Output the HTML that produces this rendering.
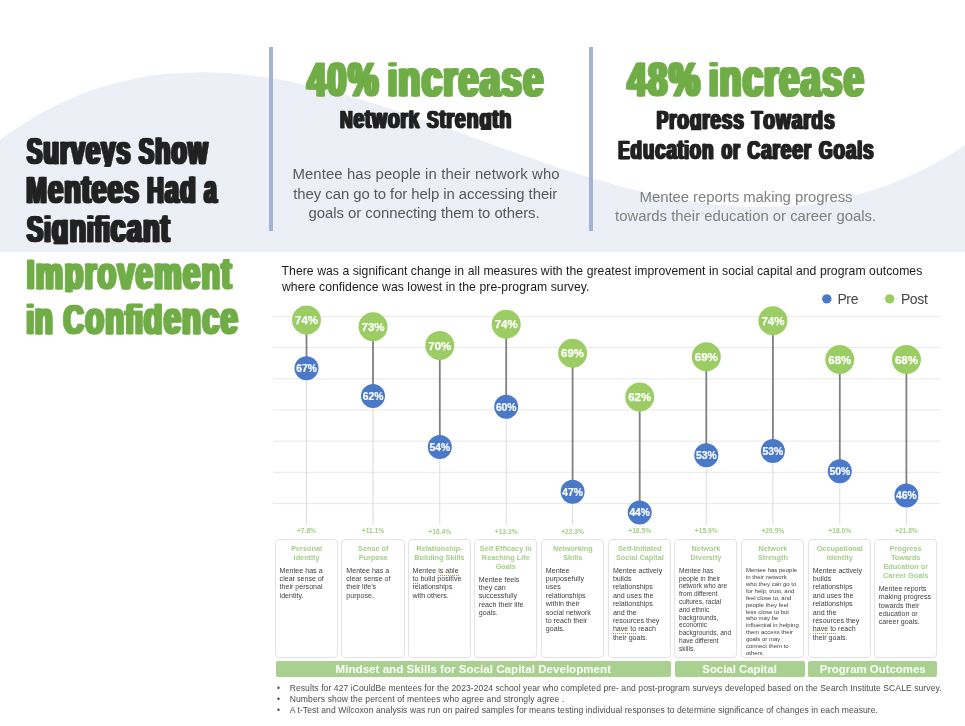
<!DOCTYPE html>
<html><head><meta charset="utf-8"><title>Survey results</title>
<style>
html,body{margin:0;padding:0;}
body{width:965px;height:726px;position:relative;overflow:hidden;background:#fff;font-family:"Liberation Sans",sans-serif;color:#222;}
.abs{position:absolute;}
svg{position:absolute;left:0;top:0;}
.t{position:absolute;white-space:nowrap;line-height:1;}
.imp{font-family:"Liberation Sans",sans-serif;font-weight:bold;}
.card{position:absolute;box-sizing:border-box;border:1px solid #e2e2e2;border-radius:4px;background:#fff;}
.ct{position:absolute;text-align:center;font-weight:bold;color:#a3cf86;white-space:nowrap;}
.cb{position:absolute;white-space:nowrap;color:#404040;}
.bar{position:absolute;background:#a9d08e;border-radius:2px;color:#fff;font-weight:bold;text-align:center;white-space:nowrap;}
.sq{border-bottom:1px dotted #c9853a;}
.fn{position:absolute;white-space:nowrap;color:#4a4a4a;}
.pct{position:absolute;font-weight:bold;color:#a3cf86;text-align:center;white-space:nowrap;}
#root{position:absolute;left:0;top:0;width:965px;height:726px;will-change:transform;}
</style></head><body><div id="root">
<svg width="965" height="726" viewBox="0 0 965 726">
<path d="M0.0,139.8 C2.5,138.0 10.0,132.5 15.0,129.2 C20.0,125.8 25.0,122.7 30.0,119.7 C35.0,116.7 40.0,113.8 45.0,111.1 C50.0,108.4 55.0,105.9 60.0,103.5 C65.0,101.1 70.0,98.9 75.0,96.8 C80.0,94.7 85.0,92.8 90.0,91.0 C95.0,89.2 100.0,87.6 105.0,86.1 C110.0,84.6 115.0,83.2 120.0,82.0 C125.0,80.8 130.0,79.6 135.0,78.6 C140.0,77.6 145.0,76.8 150.0,76.0 C155.0,75.2 160.0,74.6 165.0,74.1 C170.0,73.6 175.0,73.2 180.0,72.9 C185.0,72.6 190.0,72.5 195.0,72.4 C200.0,72.3 205.0,72.3 210.0,72.4 C215.0,72.5 220.0,72.7 225.0,73.0 C230.0,73.3 235.0,73.7 240.0,74.2 C245.0,74.7 250.0,75.3 255.0,75.9 C260.0,76.5 265.0,77.2 270.0,78.0 C275.0,78.8 280.0,79.6 285.0,80.6 C290.0,81.5 295.0,82.6 300.0,83.7 C305.0,84.8 310.0,85.9 315.0,87.1 C320.0,88.3 325.0,89.5 330.0,90.8 C335.0,92.1 340.0,93.4 345.0,94.8 C350.0,96.2 355.0,97.7 360.0,99.2 C365.0,100.7 370.0,102.2 375.0,103.8 C380.0,105.4 385.0,107.0 390.0,108.6 C395.0,110.2 400.0,111.8 405.0,113.5 C410.0,115.2 415.0,117.0 420.0,118.7 C425.0,120.4 430.0,122.2 435.0,123.9 C440.0,125.7 445.0,127.4 450.0,129.2 C455.0,131.0 460.0,132.8 465.0,134.6 C470.0,136.4 475.0,138.3 480.0,140.1 C485.0,141.9 490.0,143.7 495.0,145.5 C500.0,147.3 505.0,149.0 510.0,150.8 C515.0,152.6 520.0,154.3 525.0,156.1 C530.0,157.8 535.0,159.6 540.0,161.3 C545.0,163.0 550.0,164.7 555.0,166.4 C560.0,168.1 565.0,169.7 570.0,171.3 C575.0,172.9 580.0,174.5 585.0,176.0 C590.0,177.5 595.0,179.1 600.0,180.5 C605.0,181.9 610.0,183.3 615.0,184.7 C620.0,186.1 625.0,187.4 630.0,188.7 C635.0,190.0 640.0,191.2 645.0,192.3 C650.0,193.5 655.0,194.6 660.0,195.6 C665.0,196.6 670.0,197.7 675.0,198.6 C680.0,199.5 685.0,200.3 690.0,201.1 C695.0,201.9 700.0,202.7 705.0,203.3 C710.0,204.0 715.0,204.5 720.0,205.0 C725.0,205.5 730.0,205.9 735.0,206.2 C740.0,206.5 745.0,206.8 750.0,206.9 C755.0,207.0 760.0,207.0 765.0,207.0 C770.0,207.0 775.0,206.9 780.0,206.7 C785.0,206.5 790.0,206.1 795.0,205.7 C800.0,205.3 805.0,204.7 810.0,204.1 C815.0,203.5 820.0,202.8 825.0,201.9 C830.0,201.1 835.0,200.1 840.0,199.0 C845.0,197.9 850.0,196.7 855.0,195.4 C860.0,194.1 865.0,192.7 870.0,191.1 C875.0,189.5 880.0,187.8 885.0,186.0 C890.0,184.2 895.0,182.2 900.0,180.1 C905.0,178.0 910.0,175.9 915.0,173.5 C920.0,171.1 925.0,168.6 930.0,165.9 C935.0,163.2 940.0,160.4 945.0,157.5 C950.0,154.6 956.7,150.3 960.0,148.2 C963.3,146.1 964.2,145.4 965.0,144.9 L965,252 L0,252 Z" fill="#eceff5"/>
<rect x="269" y="47" width="4" height="184" fill="#a4b2d3"/>
<rect x="589" y="47" width="4" height="184" fill="#a4b2d3"/>
<clipPath id="cl1"><rect x="20.9" y="137.61" width="115.3" height="29.20"/></clipPath>
<g clip-path="url(#cl1)" fill="#222222" stroke="#222222" stroke-width="0.61" stroke-linejoin="round" font-family="Liberation Sans, sans-serif" font-weight="bold" font-size="37.06">
<text transform="translate(25.54,164.00) scale(0.6234,1.0000)">S</text>
<text transform="translate(26.94,164.00) scale(0.6234,1.0000)">S</text>
<text transform="translate(28.35,164.00) scale(0.6234,1.0000)">S</text>
<text transform="translate(42.12,164.00) scale(0.6858,1.1000)">u</text>
<text transform="translate(43.52,164.00) scale(0.6858,1.1000)">u</text>
<text transform="translate(44.92,164.00) scale(0.6858,1.1000)">u</text>
<text transform="translate(58.60,164.00) scale(0.6858,1.1000)">r</text>
<text transform="translate(60.00,164.00) scale(0.6858,1.1000)">r</text>
<text transform="translate(61.40,164.00) scale(0.6858,1.1000)">r</text>
<text transform="translate(69.40,164.00) scale(0.6858,1.1000)">v</text>
<text transform="translate(70.80,164.00) scale(0.6858,1.1000)">v</text>
<text transform="translate(72.20,164.00) scale(0.6858,1.1000)">v</text>
<text transform="translate(84.60,164.00) scale(0.6858,1.1000)">e</text>
<text transform="translate(86.00,164.00) scale(0.6858,1.1000)">e</text>
<text transform="translate(87.40,164.00) scale(0.6858,1.1000)">e</text>
<text transform="translate(99.80,164.00) scale(0.6858,1.1000)">y</text>
<text transform="translate(101.20,164.00) scale(0.6858,1.1000)">y</text>
<text transform="translate(102.60,164.00) scale(0.6858,1.1000)">y</text>
<text transform="translate(115.00,164.00) scale(0.6858,1.1000)">s</text>
<text transform="translate(116.40,164.00) scale(0.6858,1.1000)">s</text>
<text transform="translate(117.80,164.00) scale(0.6858,1.1000)">s</text>
</g>
<clipPath id="cl2"><rect x="132.8" y="137.61" width="81.4" height="29.20"/></clipPath>
<g clip-path="url(#cl2)" fill="#222222" stroke="#222222" stroke-width="0.61" stroke-linejoin="round" font-family="Liberation Sans, sans-serif" font-weight="bold" font-size="37.06">
<text transform="translate(137.45,164.00) scale(0.6118,1.0000)">S</text>
<text transform="translate(138.86,164.00) scale(0.6118,1.0000)">S</text>
<text transform="translate(140.26,164.00) scale(0.6118,1.0000)">S</text>
<text transform="translate(153.72,164.00) scale(0.6729,1.1000)">h</text>
<text transform="translate(155.12,164.00) scale(0.6729,1.1000)">h</text>
<text transform="translate(156.52,164.00) scale(0.6729,1.1000)">h</text>
<text transform="translate(170.10,164.00) scale(0.6729,1.1000)">o</text>
<text transform="translate(171.50,164.00) scale(0.6729,1.1000)">o</text>
<text transform="translate(172.91,164.00) scale(0.6729,1.1000)">o</text>
<text transform="translate(186.64,164.00) scale(0.6729,1.1000)">w</text>
<text transform="translate(188.04,164.00) scale(0.6729,1.1000)">w</text>
<text transform="translate(189.44,164.00) scale(0.6729,1.1000)">w</text>
</g>
<clipPath id="cl3"><rect x="21.3" y="176.61" width="123.2" height="29.20"/></clipPath>
<g clip-path="url(#cl3)" fill="#222222" stroke="#222222" stroke-width="0.61" stroke-linejoin="round" font-family="Liberation Sans, sans-serif" font-weight="bold" font-size="37.06">
<text transform="translate(24.97,203.00) scale(0.6616,1.0000)">M</text>
<text transform="translate(26.37,203.00) scale(0.6616,1.0000)">M</text>
<text transform="translate(27.77,203.00) scale(0.6616,1.0000)">M</text>
<text transform="translate(46.73,203.00) scale(0.7278,1.1000)">e</text>
<text transform="translate(48.13,203.00) scale(0.7278,1.1000)">e</text>
<text transform="translate(49.53,203.00) scale(0.7278,1.1000)">e</text>
<text transform="translate(62.91,203.00) scale(0.7278,1.1000)">n</text>
<text transform="translate(64.31,203.00) scale(0.7278,1.1000)">n</text>
<text transform="translate(65.72,203.00) scale(0.7278,1.1000)">n</text>
<text transform="translate(80.35,203.00) scale(0.7278,1.1000)">t</text>
<text transform="translate(81.75,203.00) scale(0.7278,1.1000)">t</text>
<text transform="translate(83.15,203.00) scale(0.7278,1.1000)">t</text>
<text transform="translate(90.23,203.00) scale(0.7278,1.1000)">e</text>
<text transform="translate(91.63,203.00) scale(0.7278,1.1000)">e</text>
<text transform="translate(93.04,203.00) scale(0.7278,1.1000)">e</text>
<text transform="translate(106.36,203.00) scale(0.7278,1.1000)">e</text>
<text transform="translate(107.77,203.00) scale(0.7278,1.1000)">e</text>
<text transform="translate(109.17,203.00) scale(0.7278,1.1000)">e</text>
<text transform="translate(122.49,203.00) scale(0.7278,1.1000)">s</text>
<text transform="translate(123.90,203.00) scale(0.7278,1.1000)">s</text>
<text transform="translate(125.30,203.00) scale(0.7278,1.1000)">s</text>
</g>
<clipPath id="cl4"><rect x="141.9" y="176.61" width="58.7" height="29.20"/></clipPath>
<g clip-path="url(#cl4)" fill="#222222" stroke="#222222" stroke-width="0.61" stroke-linejoin="round" font-family="Liberation Sans, sans-serif" font-weight="bold" font-size="37.06">
<text transform="translate(145.66,203.00) scale(0.6218,1.0000)">H</text>
<text transform="translate(147.07,203.00) scale(0.6218,1.0000)">H</text>
<text transform="translate(148.47,203.00) scale(0.6218,1.0000)">H</text>
<text transform="translate(163.46,203.00) scale(0.6839,1.1000)">a</text>
<text transform="translate(164.87,203.00) scale(0.6839,1.1000)">a</text>
<text transform="translate(166.27,203.00) scale(0.6839,1.1000)">a</text>
<text transform="translate(178.68,203.00) scale(0.6839,1.1000)">d</text>
<text transform="translate(180.08,203.00) scale(0.6839,1.1000)">d</text>
<text transform="translate(181.48,203.00) scale(0.6839,1.1000)">d</text>
</g>
<clipPath id="cl5"><rect x="198.1" y="176.61" width="25.5" height="29.20"/></clipPath>
<g clip-path="url(#cl5)" fill="#222222" stroke="#222222" stroke-width="0.61" stroke-linejoin="round" font-family="Liberation Sans, sans-serif" font-weight="bold" font-size="37.06">
<text transform="translate(202.74,203.00) scale(0.6114,1.1000)">a</text>
<text transform="translate(204.14,203.00) scale(0.6114,1.1000)">a</text>
<text transform="translate(205.55,203.00) scale(0.6114,1.1000)">a</text>
</g>
<clipPath id="cl6"><rect x="20.9" y="215.51" width="155.0" height="29.20"/></clipPath>
<clipPath id="cl6g"><rect x="20.9" y="215.51" width="155.0" height="27.54"/></clipPath>
<g clip-path="url(#cl6)" fill="#222222" stroke="#222222" stroke-width="0.61" stroke-linejoin="round" font-family="Liberation Sans, sans-serif" font-weight="bold" font-size="37.06">
<text transform="translate(25.50,241.90) scale(0.6623,1.0000)">S</text>
<text transform="translate(26.90,241.90) scale(0.6623,1.0000)">S</text>
<text transform="translate(28.30,241.90) scale(0.6623,1.0000)">S</text>
<text transform="translate(42.75,241.90) scale(0.6623,1.0000)">i</text>
<text transform="translate(44.15,241.90) scale(0.6623,1.0000)">i</text>
<text transform="translate(45.55,241.90) scale(0.6623,1.0000)">i</text>
<g clip-path="url(#cl6g)">
<text transform="translate(50.44,241.90) scale(0.7286,1.1000)">g</text>
<text transform="translate(51.85,241.90) scale(0.7286,1.1000)">g</text>
<text transform="translate(53.25,241.90) scale(0.7286,1.1000)">g</text>
</g>
<rect x="53.51" y="241.14" width="14.66" height="3.44" rx="1.02" stroke="none"/>
<text transform="translate(68.18,241.90) scale(0.7286,1.1000)">n</text>
<text transform="translate(69.58,241.90) scale(0.7286,1.1000)">n</text>
<text transform="translate(70.99,241.90) scale(0.7286,1.1000)">n</text>
<text transform="translate(85.55,241.90) scale(0.6623,1.0000)">i</text>
<text transform="translate(86.96,241.90) scale(0.6623,1.0000)">i</text>
<text transform="translate(88.36,241.90) scale(0.6623,1.0000)">i</text>
<text transform="translate(92.94,241.90) scale(0.6623,1.0000)">f</text>
<text transform="translate(94.34,241.90) scale(0.6623,1.0000)">f</text>
<text transform="translate(95.74,241.90) scale(0.6623,1.0000)">f</text>
<text transform="translate(101.68,241.90) scale(0.6623,1.0000)">i</text>
<text transform="translate(103.08,241.90) scale(0.6623,1.0000)">i</text>
<text transform="translate(104.48,241.90) scale(0.6623,1.0000)">i</text>
<text transform="translate(109.32,241.90) scale(0.7286,1.1000)">c</text>
<text transform="translate(110.72,241.90) scale(0.7286,1.1000)">c</text>
<text transform="translate(112.12,241.90) scale(0.7286,1.1000)">c</text>
<text transform="translate(125.47,241.90) scale(0.7286,1.1000)">a</text>
<text transform="translate(126.87,241.90) scale(0.7286,1.1000)">a</text>
<text transform="translate(128.27,241.90) scale(0.7286,1.1000)">a</text>
<text transform="translate(141.67,241.90) scale(0.7286,1.1000)">n</text>
<text transform="translate(143.07,241.90) scale(0.7286,1.1000)">n</text>
<text transform="translate(144.48,241.90) scale(0.7286,1.1000)">n</text>
<text transform="translate(159.13,241.90) scale(0.7286,1.1000)">t</text>
<text transform="translate(160.53,241.90) scale(0.7286,1.1000)">t</text>
<text transform="translate(161.93,241.90) scale(0.7286,1.1000)">t</text>
</g>
<clipPath id="cl7"><rect x="21.7" y="259.09" width="216.3" height="33.09"/></clipPath>
<g clip-path="url(#cl7)" fill="#70ad47" stroke="#70ad47" stroke-width="0.69" stroke-linejoin="round" font-family="Liberation Sans, sans-serif" font-weight="bold" font-size="42.01">
<text transform="translate(25.19,289.00) scale(0.6608,1.0000)">I</text>
<text transform="translate(26.78,289.00) scale(0.6608,1.0000)">I</text>
<text transform="translate(28.37,289.00) scale(0.6608,1.0000)">I</text>
<text transform="translate(34.21,289.00) scale(0.7269,1.1000)">m</text>
<text transform="translate(35.80,289.00) scale(0.7269,1.1000)">m</text>
<text transform="translate(37.39,289.00) scale(0.7269,1.1000)">m</text>
<text transform="translate(63.09,289.00) scale(0.7269,1.1000)">p</text>
<text transform="translate(64.68,289.00) scale(0.7269,1.1000)">p</text>
<text transform="translate(66.27,289.00) scale(0.7269,1.1000)">p</text>
<text transform="translate(82.89,289.00) scale(0.7269,1.1000)">r</text>
<text transform="translate(84.48,289.00) scale(0.7269,1.1000)">r</text>
<text transform="translate(86.07,289.00) scale(0.7269,1.1000)">r</text>
<text transform="translate(95.92,289.00) scale(0.7269,1.1000)">o</text>
<text transform="translate(97.51,289.00) scale(0.7269,1.1000)">o</text>
<text transform="translate(99.10,289.00) scale(0.7269,1.1000)">o</text>
<text transform="translate(115.91,289.00) scale(0.7269,1.1000)">v</text>
<text transform="translate(117.50,289.00) scale(0.7269,1.1000)">v</text>
<text transform="translate(119.09,289.00) scale(0.7269,1.1000)">v</text>
<text transform="translate(134.17,289.00) scale(0.7269,1.1000)">e</text>
<text transform="translate(135.76,289.00) scale(0.7269,1.1000)">e</text>
<text transform="translate(137.35,289.00) scale(0.7269,1.1000)">e</text>
<text transform="translate(152.81,289.00) scale(0.7269,1.1000)">m</text>
<text transform="translate(154.40,289.00) scale(0.7269,1.1000)">m</text>
<text transform="translate(155.99,289.00) scale(0.7269,1.1000)">m</text>
<text transform="translate(181.62,289.00) scale(0.7269,1.1000)">e</text>
<text transform="translate(183.21,289.00) scale(0.7269,1.1000)">e</text>
<text transform="translate(184.80,289.00) scale(0.7269,1.1000)">e</text>
<text transform="translate(199.94,289.00) scale(0.7269,1.1000)">n</text>
<text transform="translate(201.53,289.00) scale(0.7269,1.1000)">n</text>
<text transform="translate(203.12,289.00) scale(0.7269,1.1000)">n</text>
<text transform="translate(219.68,289.00) scale(0.7269,1.1000)">t</text>
<text transform="translate(221.27,289.00) scale(0.7269,1.1000)">t</text>
<text transform="translate(222.86,289.00) scale(0.7269,1.1000)">t</text>
</g>
<clipPath id="cl8"><rect x="21.5" y="303.69" width="36.4" height="33.09"/></clipPath>
<g clip-path="url(#cl8)" fill="#70ad47" stroke="#70ad47" stroke-width="0.69" stroke-linejoin="round" font-family="Liberation Sans, sans-serif" font-weight="bold" font-size="42.01">
<text transform="translate(24.99,333.60) scale(0.6328,1.0000)">i</text>
<text transform="translate(26.58,333.60) scale(0.6328,1.0000)">i</text>
<text transform="translate(28.17,333.60) scale(0.6328,1.0000)">i</text>
<text transform="translate(33.33,333.60) scale(0.6961,1.1000)">n</text>
<text transform="translate(34.92,333.60) scale(0.6961,1.1000)">n</text>
<text transform="translate(36.51,333.60) scale(0.6961,1.1000)">n</text>
</g>
<clipPath id="cl9"><rect x="57.9" y="303.69" width="185.6" height="33.09"/></clipPath>
<g clip-path="url(#cl9)" fill="#70ad47" stroke="#70ad47" stroke-width="0.69" stroke-linejoin="round" font-family="Liberation Sans, sans-serif" font-weight="bold" font-size="42.01">
<text transform="translate(62.10,333.60) scale(0.6628,1.0000)">C</text>
<text transform="translate(63.69,333.60) scale(0.6628,1.0000)">C</text>
<text transform="translate(65.28,333.60) scale(0.6628,1.0000)">C</text>
<text transform="translate(83.67,333.60) scale(0.7291,1.1000)">o</text>
<text transform="translate(85.26,333.60) scale(0.7291,1.1000)">o</text>
<text transform="translate(86.85,333.60) scale(0.7291,1.1000)">o</text>
<text transform="translate(103.79,333.60) scale(0.7291,1.1000)">n</text>
<text transform="translate(105.38,333.60) scale(0.7291,1.1000)">n</text>
<text transform="translate(106.97,333.60) scale(0.7291,1.1000)">n</text>
<text transform="translate(123.55,333.60) scale(0.6628,1.0000)">f</text>
<text transform="translate(125.14,333.60) scale(0.6628,1.0000)">f</text>
<text transform="translate(126.73,333.60) scale(0.6628,1.0000)">f</text>
<text transform="translate(133.46,333.60) scale(0.6628,1.0000)">i</text>
<text transform="translate(135.05,333.60) scale(0.6628,1.0000)">i</text>
<text transform="translate(136.64,333.60) scale(0.6628,1.0000)">i</text>
<text transform="translate(142.19,333.60) scale(0.7291,1.1000)">d</text>
<text transform="translate(143.78,333.60) scale(0.7291,1.1000)">d</text>
<text transform="translate(145.37,333.60) scale(0.7291,1.1000)">d</text>
<text transform="translate(162.24,333.60) scale(0.7291,1.1000)">e</text>
<text transform="translate(163.83,333.60) scale(0.7291,1.1000)">e</text>
<text transform="translate(165.42,333.60) scale(0.7291,1.1000)">e</text>
<text transform="translate(180.62,333.60) scale(0.7291,1.1000)">n</text>
<text transform="translate(182.21,333.60) scale(0.7291,1.1000)">n</text>
<text transform="translate(183.80,333.60) scale(0.7291,1.1000)">n</text>
<text transform="translate(200.67,333.60) scale(0.7291,1.1000)">c</text>
<text transform="translate(202.26,333.60) scale(0.7291,1.1000)">c</text>
<text transform="translate(203.85,333.60) scale(0.7291,1.1000)">c</text>
<text transform="translate(218.99,333.60) scale(0.7291,1.1000)">e</text>
<text transform="translate(220.58,333.60) scale(0.7291,1.1000)">e</text>
<text transform="translate(222.17,333.60) scale(0.7291,1.1000)">e</text>
</g>
<clipPath id="cl10"><rect x="300.7" y="62.56" width="83.8" height="37.44"/></clipPath>
<g clip-path="url(#cl10)" fill="#70ad47" stroke="#70ad47" stroke-width="0.78" stroke-linejoin="round" font-family="Liberation Sans, sans-serif" font-weight="bold" font-size="47.53">
<text transform="translate(305.58,96.40) scale(0.7103,1.0000)">4</text>
<text transform="translate(307.38,96.40) scale(0.7103,1.0000)">4</text>
<text transform="translate(309.18,96.40) scale(0.7103,1.0000)">4</text>
<text transform="translate(325.77,96.40) scale(0.7103,1.0000)">0</text>
<text transform="translate(327.57,96.40) scale(0.7103,1.0000)">0</text>
<text transform="translate(329.37,96.40) scale(0.7103,1.0000)">0</text>
<text transform="translate(346.38,96.40) scale(0.7103,1.0000)">%</text>
<text transform="translate(348.18,96.40) scale(0.7103,1.0000)">%</text>
<text transform="translate(349.98,96.40) scale(0.7103,1.0000)">%</text>
</g>
<clipPath id="cl11"><rect x="383.1" y="62.56" width="166.1" height="37.44"/></clipPath>
<g clip-path="url(#cl11)" fill="#70ad47" stroke="#70ad47" stroke-width="0.78" stroke-linejoin="round" font-family="Liberation Sans, sans-serif" font-weight="bold" font-size="47.53">
<text transform="translate(386.20,96.40) scale(0.6895,1.0000)">i</text>
<text transform="translate(388.00,96.40) scale(0.6895,1.0000)">i</text>
<text transform="translate(389.80,96.40) scale(0.6895,1.0000)">i</text>
<text transform="translate(396.48,96.40) scale(0.7584,1.1000)">n</text>
<text transform="translate(398.28,96.40) scale(0.7584,1.1000)">n</text>
<text transform="translate(400.08,96.40) scale(0.7584,1.1000)">n</text>
<text transform="translate(420.08,96.40) scale(0.7584,1.1000)">c</text>
<text transform="translate(421.88,96.40) scale(0.7584,1.1000)">c</text>
<text transform="translate(423.68,96.40) scale(0.7584,1.1000)">c</text>
<text transform="translate(441.41,96.40) scale(0.7584,1.1000)">r</text>
<text transform="translate(443.21,96.40) scale(0.7584,1.1000)">r</text>
<text transform="translate(445.01,96.40) scale(0.7584,1.1000)">r</text>
<text transform="translate(456.72,96.40) scale(0.7584,1.1000)">e</text>
<text transform="translate(458.52,96.40) scale(0.7584,1.1000)">e</text>
<text transform="translate(460.32,96.40) scale(0.7584,1.1000)">e</text>
<text transform="translate(478.28,96.40) scale(0.7584,1.1000)">a</text>
<text transform="translate(480.08,96.40) scale(0.7584,1.1000)">a</text>
<text transform="translate(481.88,96.40) scale(0.7584,1.1000)">a</text>
<text transform="translate(499.84,96.40) scale(0.7584,1.1000)">s</text>
<text transform="translate(501.64,96.40) scale(0.7584,1.1000)">s</text>
<text transform="translate(503.43,96.40) scale(0.7584,1.1000)">s</text>
<text transform="translate(521.39,96.40) scale(0.7584,1.1000)">e</text>
<text transform="translate(523.19,96.40) scale(0.7584,1.1000)">e</text>
<text transform="translate(524.99,96.40) scale(0.7584,1.1000)">e</text>
</g>
<clipPath id="cl12"><rect x="335.0" y="110.50" width="90.5" height="19.46"/></clipPath>
<g clip-path="url(#cl12)" fill="#222222" stroke="#222222" stroke-width="0.41" stroke-linejoin="round" font-family="Liberation Sans, sans-serif" font-weight="bold" font-size="24.71">
<text transform="translate(339.03,128.10) scale(0.7078,1.0000)">N</text>
<text transform="translate(339.97,128.10) scale(0.7078,1.0000)">N</text>
<text transform="translate(340.90,128.10) scale(0.7078,1.0000)">N</text>
<text transform="translate(352.54,128.10) scale(0.7785,1.1000)">e</text>
<text transform="translate(353.48,128.10) scale(0.7785,1.1000)">e</text>
<text transform="translate(354.41,128.10) scale(0.7785,1.1000)">e</text>
<text transform="translate(363.88,128.10) scale(0.7785,1.1000)">t</text>
<text transform="translate(364.82,128.10) scale(0.7785,1.1000)">t</text>
<text transform="translate(365.75,128.10) scale(0.7785,1.1000)">t</text>
<text transform="translate(371.09,128.10) scale(0.7785,1.1000)">w</text>
<text transform="translate(372.03,128.10) scale(0.7785,1.1000)">w</text>
<text transform="translate(372.96,128.10) scale(0.7785,1.1000)">w</text>
<text transform="translate(387.06,128.10) scale(0.7785,1.1000)">o</text>
<text transform="translate(388.00,128.10) scale(0.7785,1.1000)">o</text>
<text transform="translate(388.93,128.10) scale(0.7785,1.1000)">o</text>
<text transform="translate(399.54,128.10) scale(0.7785,1.1000)">r</text>
<text transform="translate(400.47,128.10) scale(0.7785,1.1000)">r</text>
<text transform="translate(401.41,128.10) scale(0.7785,1.1000)">r</text>
<text transform="translate(407.71,128.10) scale(0.7785,1.1000)">k</text>
<text transform="translate(408.64,128.10) scale(0.7785,1.1000)">k</text>
<text transform="translate(409.58,128.10) scale(0.7785,1.1000)">k</text>
</g>
<clipPath id="cl13"><rect x="421.2" y="110.50" width="95.1" height="19.46"/></clipPath>
<clipPath id="cl13g"><rect x="421.2" y="110.50" width="95.1" height="18.36"/></clipPath>
<g clip-path="url(#cl13)" fill="#222222" stroke="#222222" stroke-width="0.41" stroke-linejoin="round" font-family="Liberation Sans, sans-serif" font-weight="bold" font-size="24.71">
<text transform="translate(425.89,128.10) scale(0.7219,1.0000)">S</text>
<text transform="translate(426.83,128.10) scale(0.7219,1.0000)">S</text>
<text transform="translate(427.76,128.10) scale(0.7219,1.0000)">S</text>
<text transform="translate(438.48,128.10) scale(0.7941,1.1000)">t</text>
<text transform="translate(439.42,128.10) scale(0.7941,1.1000)">t</text>
<text transform="translate(440.35,128.10) scale(0.7941,1.1000)">t</text>
<text transform="translate(445.55,128.10) scale(0.7941,1.1000)">r</text>
<text transform="translate(446.48,128.10) scale(0.7941,1.1000)">r</text>
<text transform="translate(447.42,128.10) scale(0.7941,1.1000)">r</text>
<text transform="translate(453.88,128.10) scale(0.7941,1.1000)">e</text>
<text transform="translate(454.82,128.10) scale(0.7941,1.1000)">e</text>
<text transform="translate(455.75,128.10) scale(0.7941,1.1000)">e</text>
<text transform="translate(465.66,128.10) scale(0.7941,1.1000)">n</text>
<text transform="translate(466.59,128.10) scale(0.7941,1.1000)">n</text>
<text transform="translate(467.53,128.10) scale(0.7941,1.1000)">n</text>
<g clip-path="url(#cl13g)">
<text transform="translate(478.54,128.10) scale(0.7941,1.1000)">g</text>
<text transform="translate(479.48,128.10) scale(0.7941,1.1000)">g</text>
<text transform="translate(480.41,128.10) scale(0.7941,1.1000)">g</text>
</g>
<rect x="480.75" y="127.59" width="10.48" height="2.29" rx="0.68" stroke="none"/>
<text transform="translate(491.23,128.10) scale(0.7941,1.1000)">t</text>
<text transform="translate(492.16,128.10) scale(0.7941,1.1000)">t</text>
<text transform="translate(493.10,128.10) scale(0.7941,1.1000)">t</text>
<text transform="translate(498.46,128.10) scale(0.7941,1.1000)">h</text>
<text transform="translate(499.39,128.10) scale(0.7941,1.1000)">h</text>
<text transform="translate(500.33,128.10) scale(0.7941,1.1000)">h</text>
</g>
<clipPath id="cl14"><rect x="620.9" y="62.16" width="85.0" height="37.44"/></clipPath>
<g clip-path="url(#cl14)" fill="#70ad47" stroke="#70ad47" stroke-width="0.78" stroke-linejoin="round" font-family="Liberation Sans, sans-serif" font-weight="bold" font-size="47.53">
<text transform="translate(625.77,96.00) scale(0.7226,1.0000)">4</text>
<text transform="translate(627.57,96.00) scale(0.7226,1.0000)">4</text>
<text transform="translate(629.37,96.00) scale(0.7226,1.0000)">4</text>
<text transform="translate(646.31,96.00) scale(0.7226,1.0000)">8</text>
<text transform="translate(648.11,96.00) scale(0.7226,1.0000)">8</text>
<text transform="translate(649.91,96.00) scale(0.7226,1.0000)">8</text>
<text transform="translate(667.28,96.00) scale(0.7226,1.0000)">%</text>
<text transform="translate(669.08,96.00) scale(0.7226,1.0000)">%</text>
<text transform="translate(670.88,96.00) scale(0.7226,1.0000)">%</text>
</g>
<clipPath id="cl15"><rect x="704.3" y="62.16" width="165.3" height="37.44"/></clipPath>
<g clip-path="url(#cl15)" fill="#70ad47" stroke="#70ad47" stroke-width="0.78" stroke-linejoin="round" font-family="Liberation Sans, sans-serif" font-weight="bold" font-size="47.53">
<text transform="translate(707.42,96.00) scale(0.6858,1.0000)">i</text>
<text transform="translate(709.21,96.00) scale(0.6858,1.0000)">i</text>
<text transform="translate(711.01,96.00) scale(0.6858,1.0000)">i</text>
<text transform="translate(717.64,96.00) scale(0.7544,1.1000)">n</text>
<text transform="translate(719.44,96.00) scale(0.7544,1.1000)">n</text>
<text transform="translate(721.24,96.00) scale(0.7544,1.1000)">n</text>
<text transform="translate(741.12,96.00) scale(0.7544,1.1000)">c</text>
<text transform="translate(742.91,96.00) scale(0.7544,1.1000)">c</text>
<text transform="translate(744.71,96.00) scale(0.7544,1.1000)">c</text>
<text transform="translate(762.33,96.00) scale(0.7544,1.1000)">r</text>
<text transform="translate(764.13,96.00) scale(0.7544,1.1000)">r</text>
<text transform="translate(765.93,96.00) scale(0.7544,1.1000)">r</text>
<text transform="translate(777.56,96.00) scale(0.7544,1.1000)">e</text>
<text transform="translate(779.36,96.00) scale(0.7544,1.1000)">e</text>
<text transform="translate(781.16,96.00) scale(0.7544,1.1000)">e</text>
<text transform="translate(799.01,96.00) scale(0.7544,1.1000)">a</text>
<text transform="translate(800.81,96.00) scale(0.7544,1.1000)">a</text>
<text transform="translate(802.60,96.00) scale(0.7544,1.1000)">a</text>
<text transform="translate(820.45,96.00) scale(0.7544,1.1000)">s</text>
<text transform="translate(822.25,96.00) scale(0.7544,1.1000)">s</text>
<text transform="translate(824.05,96.00) scale(0.7544,1.1000)">s</text>
<text transform="translate(841.89,96.00) scale(0.7544,1.1000)">e</text>
<text transform="translate(843.69,96.00) scale(0.7544,1.1000)">e</text>
<text transform="translate(845.49,96.00) scale(0.7544,1.1000)">e</text>
</g>
<clipPath id="cl16"><rect x="651.8" y="110.49" width="97.5" height="20.04"/></clipPath>
<clipPath id="cl16g"><rect x="651.8" y="110.49" width="97.5" height="18.90"/></clipPath>
<g clip-path="url(#cl16)" fill="#222222" stroke="#222222" stroke-width="0.42" stroke-linejoin="round" font-family="Liberation Sans, sans-serif" font-weight="bold" font-size="25.44">
<text transform="translate(655.85,128.60) scale(0.6838,1.0000)">P</text>
<text transform="translate(656.81,128.60) scale(0.6838,1.0000)">P</text>
<text transform="translate(657.77,128.60) scale(0.6838,1.0000)">P</text>
<text transform="translate(668.16,128.60) scale(0.7521,1.1000)">r</text>
<text transform="translate(669.13,128.60) scale(0.7521,1.1000)">r</text>
<text transform="translate(670.09,128.60) scale(0.7521,1.1000)">r</text>
<text transform="translate(676.33,128.60) scale(0.7521,1.1000)">o</text>
<text transform="translate(677.29,128.60) scale(0.7521,1.1000)">o</text>
<text transform="translate(678.25,128.60) scale(0.7521,1.1000)">o</text>
<g clip-path="url(#cl16g)">
<text transform="translate(688.90,128.60) scale(0.7521,1.1000)">g</text>
<text transform="translate(689.86,128.60) scale(0.7521,1.1000)">g</text>
<text transform="translate(690.82,128.60) scale(0.7521,1.1000)">g</text>
</g>
<rect x="691.06" y="128.07" width="10.32" height="2.36" rx="0.70" stroke="none"/>
<text transform="translate(701.30,128.60) scale(0.7521,1.1000)">r</text>
<text transform="translate(702.26,128.60) scale(0.7521,1.1000)">r</text>
<text transform="translate(703.23,128.60) scale(0.7521,1.1000)">r</text>
<text transform="translate(709.43,128.60) scale(0.7521,1.1000)">e</text>
<text transform="translate(710.39,128.60) scale(0.7521,1.1000)">e</text>
<text transform="translate(711.35,128.60) scale(0.7521,1.1000)">e</text>
<text transform="translate(720.87,128.60) scale(0.7521,1.1000)">s</text>
<text transform="translate(721.83,128.60) scale(0.7521,1.1000)">s</text>
<text transform="translate(722.79,128.60) scale(0.7521,1.1000)">s</text>
<text transform="translate(732.31,128.60) scale(0.7521,1.1000)">s</text>
<text transform="translate(733.27,128.60) scale(0.7521,1.1000)">s</text>
<text transform="translate(734.23,128.60) scale(0.7521,1.1000)">s</text>
</g>
<clipPath id="cl17"><rect x="745.7" y="110.49" width="94.3" height="20.04"/></clipPath>
<g clip-path="url(#cl17)" fill="#222222" stroke="#222222" stroke-width="0.42" stroke-linejoin="round" font-family="Liberation Sans, sans-serif" font-weight="bold" font-size="25.44">
<text transform="translate(750.71,128.60) scale(0.6862,1.0000)">T</text>
<text transform="translate(751.68,128.60) scale(0.6862,1.0000)">T</text>
<text transform="translate(752.64,128.60) scale(0.6862,1.0000)">T</text>
<text transform="translate(762.22,128.60) scale(0.7548,1.1000)">o</text>
<text transform="translate(763.18,128.60) scale(0.7548,1.1000)">o</text>
<text transform="translate(764.14,128.60) scale(0.7548,1.1000)">o</text>
<text transform="translate(774.95,128.60) scale(0.7548,1.1000)">w</text>
<text transform="translate(775.91,128.60) scale(0.7548,1.1000)">w</text>
<text transform="translate(776.87,128.60) scale(0.7548,1.1000)">w</text>
<text transform="translate(790.85,128.60) scale(0.7548,1.1000)">a</text>
<text transform="translate(791.81,128.60) scale(0.7548,1.1000)">a</text>
<text transform="translate(792.77,128.60) scale(0.7548,1.1000)">a</text>
<text transform="translate(802.21,128.60) scale(0.7548,1.1000)">r</text>
<text transform="translate(803.17,128.60) scale(0.7548,1.1000)">r</text>
<text transform="translate(804.13,128.60) scale(0.7548,1.1000)">r</text>
<text transform="translate(810.40,128.60) scale(0.7548,1.1000)">d</text>
<text transform="translate(811.37,128.60) scale(0.7548,1.1000)">d</text>
<text transform="translate(812.33,128.60) scale(0.7548,1.1000)">d</text>
<text transform="translate(822.97,128.60) scale(0.7548,1.1000)">s</text>
<text transform="translate(823.94,128.60) scale(0.7548,1.1000)">s</text>
<text transform="translate(824.90,128.60) scale(0.7548,1.1000)">s</text>
</g>
<clipPath id="cl18"><rect x="613.2" y="140.39" width="105.3" height="20.04"/></clipPath>
<g clip-path="url(#cl18)" fill="#222222" stroke="#222222" stroke-width="0.42" stroke-linejoin="round" font-family="Liberation Sans, sans-serif" font-weight="bold" font-size="25.44">
<text transform="translate(617.26,158.50) scale(0.6730,1.0000)">E</text>
<text transform="translate(618.23,158.50) scale(0.6730,1.0000)">E</text>
<text transform="translate(619.19,158.50) scale(0.6730,1.0000)">E</text>
<text transform="translate(629.55,158.50) scale(0.7403,1.1000)">d</text>
<text transform="translate(630.51,158.50) scale(0.7403,1.1000)">d</text>
<text transform="translate(631.47,158.50) scale(0.7403,1.1000)">d</text>
<text transform="translate(641.91,158.50) scale(0.7403,1.1000)">u</text>
<text transform="translate(642.88,158.50) scale(0.7403,1.1000)">u</text>
<text transform="translate(643.84,158.50) scale(0.7403,1.1000)">u</text>
<text transform="translate(654.24,158.50) scale(0.7403,1.1000)">c</text>
<text transform="translate(655.21,158.50) scale(0.7403,1.1000)">c</text>
<text transform="translate(656.17,158.50) scale(0.7403,1.1000)">c</text>
<text transform="translate(665.50,158.50) scale(0.7403,1.1000)">a</text>
<text transform="translate(666.47,158.50) scale(0.7403,1.1000)">a</text>
<text transform="translate(667.43,158.50) scale(0.7403,1.1000)">a</text>
<text transform="translate(676.61,158.50) scale(0.7403,1.1000)">t</text>
<text transform="translate(677.57,158.50) scale(0.7403,1.1000)">t</text>
<text transform="translate(678.53,158.50) scale(0.7403,1.1000)">t</text>
<text transform="translate(683.29,158.50) scale(0.6730,1.0000)">i</text>
<text transform="translate(684.26,158.50) scale(0.6730,1.0000)">i</text>
<text transform="translate(685.22,158.50) scale(0.6730,1.0000)">i</text>
<text transform="translate(688.66,158.50) scale(0.7403,1.1000)">o</text>
<text transform="translate(689.62,158.50) scale(0.7403,1.1000)">o</text>
<text transform="translate(690.59,158.50) scale(0.7403,1.1000)">o</text>
<text transform="translate(701.03,158.50) scale(0.7403,1.1000)">n</text>
<text transform="translate(701.99,158.50) scale(0.7403,1.1000)">n</text>
<text transform="translate(702.96,158.50) scale(0.7403,1.1000)">n</text>
</g>
<clipPath id="cl19"><rect x="716.1" y="140.39" width="29.6" height="20.04"/></clipPath>
<g clip-path="url(#cl19)" fill="#222222" stroke="#222222" stroke-width="0.42" stroke-linejoin="round" font-family="Liberation Sans, sans-serif" font-weight="bold" font-size="25.44">
<text transform="translate(720.62,158.50) scale(0.6898,1.1000)">o</text>
<text transform="translate(721.59,158.50) scale(0.6898,1.1000)">o</text>
<text transform="translate(722.55,158.50) scale(0.6898,1.1000)">o</text>
<text transform="translate(732.00,158.50) scale(0.6898,1.1000)">r</text>
<text transform="translate(732.97,158.50) scale(0.6898,1.1000)">r</text>
<text transform="translate(733.93,158.50) scale(0.6898,1.1000)">r</text>
</g>
<clipPath id="cl20"><rect x="742.1" y="140.39" width="74.9" height="20.04"/></clipPath>
<g clip-path="url(#cl20)" fill="#222222" stroke="#222222" stroke-width="0.42" stroke-linejoin="round" font-family="Liberation Sans, sans-serif" font-weight="bold" font-size="25.44">
<text transform="translate(746.59,158.50) scale(0.6890,1.0000)">C</text>
<text transform="translate(747.55,158.50) scale(0.6890,1.0000)">C</text>
<text transform="translate(748.52,158.50) scale(0.6890,1.0000)">C</text>
<text transform="translate(760.13,158.50) scale(0.7579,1.1000)">a</text>
<text transform="translate(761.09,158.50) scale(0.7579,1.1000)">a</text>
<text transform="translate(762.05,158.50) scale(0.7579,1.1000)">a</text>
<text transform="translate(771.53,158.50) scale(0.7579,1.1000)">r</text>
<text transform="translate(772.50,158.50) scale(0.7579,1.1000)">r</text>
<text transform="translate(773.46,158.50) scale(0.7579,1.1000)">r</text>
<text transform="translate(779.72,158.50) scale(0.7579,1.1000)">e</text>
<text transform="translate(780.68,158.50) scale(0.7579,1.1000)">e</text>
<text transform="translate(781.65,158.50) scale(0.7579,1.1000)">e</text>
<text transform="translate(791.25,158.50) scale(0.7579,1.1000)">e</text>
<text transform="translate(792.21,158.50) scale(0.7579,1.1000)">e</text>
<text transform="translate(793.17,158.50) scale(0.7579,1.1000)">e</text>
<text transform="translate(802.66,158.50) scale(0.7579,1.1000)">r</text>
<text transform="translate(803.62,158.50) scale(0.7579,1.1000)">r</text>
<text transform="translate(804.58,158.50) scale(0.7579,1.1000)">r</text>
</g>
<clipPath id="cl21"><rect x="813.5" y="140.39" width="65.5" height="20.04"/></clipPath>
<g clip-path="url(#cl21)" fill="#222222" stroke="#222222" stroke-width="0.42" stroke-linejoin="round" font-family="Liberation Sans, sans-serif" font-weight="bold" font-size="25.44">
<text transform="translate(818.00,158.50) scale(0.6819,1.0000)">G</text>
<text transform="translate(818.96,158.50) scale(0.6819,1.0000)">G</text>
<text transform="translate(819.92,158.50) scale(0.6819,1.0000)">G</text>
<text transform="translate(832.44,158.50) scale(0.7501,1.1000)">o</text>
<text transform="translate(833.40,158.50) scale(0.7501,1.1000)">o</text>
<text transform="translate(834.36,158.50) scale(0.7501,1.1000)">o</text>
<text transform="translate(844.93,158.50) scale(0.7501,1.1000)">a</text>
<text transform="translate(845.89,158.50) scale(0.7501,1.1000)">a</text>
<text transform="translate(846.85,158.50) scale(0.7501,1.1000)">a</text>
<text transform="translate(856.14,158.50) scale(0.7501,1.1000)">l</text>
<text transform="translate(857.10,158.50) scale(0.7501,1.1000)">l</text>
<text transform="translate(858.06,158.50) scale(0.7501,1.1000)">l</text>
<text transform="translate(862.04,158.50) scale(0.7501,1.1000)">s</text>
<text transform="translate(863.00,158.50) scale(0.7501,1.1000)">s</text>
<text transform="translate(863.96,158.50) scale(0.7501,1.1000)">s</text>
</g>
<rect x="273" y="315.9" width="667" height="1" fill="#e8e8e8"/>
<rect x="273" y="347.1" width="667" height="1" fill="#e8e8e8"/>
<rect x="273" y="378.3" width="667" height="1" fill="#e8e8e8"/>
<rect x="273" y="409.4" width="667" height="1" fill="#e8e8e8"/>
<rect x="273" y="440.6" width="667" height="1" fill="#e8e8e8"/>
<rect x="273" y="471.8" width="667" height="1" fill="#e8e8e8"/>
<rect x="273" y="503.1" width="667" height="1" fill="#e8e8e8"/>
<rect x="306.0" y="368.3" width="1" height="156.5" fill="#dcdcdc"/>
<rect x="305.6" y="319.8" width="1.8" height="48.5" fill="#808080"/>
<rect x="372.5" y="396.0" width="1" height="128.8" fill="#dcdcdc"/>
<rect x="372.1" y="326.6" width="1.8" height="69.4" fill="#808080"/>
<rect x="439.3" y="447.0" width="1" height="77.8" fill="#dcdcdc"/>
<rect x="438.9" y="345.2" width="1.8" height="101.8" fill="#808080"/>
<rect x="505.7" y="406.8" width="1" height="118.0" fill="#dcdcdc"/>
<rect x="505.3" y="324.0" width="1.8" height="82.8" fill="#808080"/>
<rect x="572.1" y="491.8" width="1" height="33.0" fill="#dcdcdc"/>
<rect x="571.7" y="353.0" width="1.8" height="138.8" fill="#808080"/>
<rect x="639.2" y="512.4" width="1" height="12.4" fill="#dcdcdc"/>
<rect x="638.8" y="396.7" width="1.8" height="115.7" fill="#808080"/>
<rect x="705.8" y="455.3" width="1" height="69.5" fill="#dcdcdc"/>
<rect x="705.4" y="356.6" width="1.8" height="98.7" fill="#808080"/>
<rect x="772.4" y="451.1" width="1" height="73.7" fill="#dcdcdc"/>
<rect x="772.0" y="320.6" width="1.8" height="130.5" fill="#808080"/>
<rect x="839.3" y="471.2" width="1" height="53.6" fill="#dcdcdc"/>
<rect x="838.9" y="359.2" width="1.8" height="112.0" fill="#808080"/>
<rect x="905.9" y="495.4" width="1" height="29.4" fill="#dcdcdc"/>
<rect x="905.5" y="359.2" width="1.8" height="136.2" fill="#808080"/>
<circle cx="306.5" cy="320.0" r="14.5" fill="#9ccd65"/>
<circle cx="306.5" cy="368.3" r="12.0" fill="#4a79c9"/>
<text x="306.5" y="324.1" text-anchor="middle" font-family="Liberation Sans, sans-serif" font-weight="bold" font-size="11.5" fill="#fff" stroke="#fff" stroke-width="0.25">74%</text>
<text x="306.5" y="372.1" text-anchor="middle" font-family="Liberation Sans, sans-serif" font-weight="bold" font-size="10.3" fill="#fff" stroke="#fff" stroke-width="0.2">67%</text>
<circle cx="373.0" cy="326.8" r="14.5" fill="#9ccd65"/>
<circle cx="373.0" cy="396.0" r="12.0" fill="#4a79c9"/>
<text x="373.0" y="330.9" text-anchor="middle" font-family="Liberation Sans, sans-serif" font-weight="bold" font-size="11.5" fill="#fff" stroke="#fff" stroke-width="0.25">73%</text>
<text x="373.0" y="399.8" text-anchor="middle" font-family="Liberation Sans, sans-serif" font-weight="bold" font-size="10.3" fill="#fff" stroke="#fff" stroke-width="0.2">62%</text>
<circle cx="439.8" cy="345.4" r="14.5" fill="#9ccd65"/>
<circle cx="439.8" cy="447.0" r="12.0" fill="#4a79c9"/>
<text x="439.8" y="349.5" text-anchor="middle" font-family="Liberation Sans, sans-serif" font-weight="bold" font-size="11.5" fill="#fff" stroke="#fff" stroke-width="0.25">70%</text>
<text x="439.8" y="450.8" text-anchor="middle" font-family="Liberation Sans, sans-serif" font-weight="bold" font-size="10.3" fill="#fff" stroke="#fff" stroke-width="0.2">54%</text>
<circle cx="506.2" cy="324.2" r="14.5" fill="#9ccd65"/>
<circle cx="506.2" cy="406.8" r="12.0" fill="#4a79c9"/>
<text x="506.2" y="328.3" text-anchor="middle" font-family="Liberation Sans, sans-serif" font-weight="bold" font-size="11.5" fill="#fff" stroke="#fff" stroke-width="0.25">74%</text>
<text x="506.2" y="410.6" text-anchor="middle" font-family="Liberation Sans, sans-serif" font-weight="bold" font-size="10.3" fill="#fff" stroke="#fff" stroke-width="0.2">60%</text>
<circle cx="572.6" cy="353.2" r="14.5" fill="#9ccd65"/>
<circle cx="572.6" cy="491.8" r="12.0" fill="#4a79c9"/>
<text x="572.6" y="357.3" text-anchor="middle" font-family="Liberation Sans, sans-serif" font-weight="bold" font-size="11.5" fill="#fff" stroke="#fff" stroke-width="0.25">69%</text>
<text x="572.6" y="495.6" text-anchor="middle" font-family="Liberation Sans, sans-serif" font-weight="bold" font-size="10.3" fill="#fff" stroke="#fff" stroke-width="0.2">47%</text>
<circle cx="639.7" cy="396.9" r="14.5" fill="#9ccd65"/>
<circle cx="639.7" cy="512.4" r="12.0" fill="#4a79c9"/>
<text x="639.7" y="401.0" text-anchor="middle" font-family="Liberation Sans, sans-serif" font-weight="bold" font-size="11.5" fill="#fff" stroke="#fff" stroke-width="0.25">62%</text>
<text x="639.7" y="516.2" text-anchor="middle" font-family="Liberation Sans, sans-serif" font-weight="bold" font-size="10.3" fill="#fff" stroke="#fff" stroke-width="0.2">44%</text>
<circle cx="706.3" cy="356.8" r="14.5" fill="#9ccd65"/>
<circle cx="706.3" cy="455.3" r="12.0" fill="#4a79c9"/>
<text x="706.3" y="360.9" text-anchor="middle" font-family="Liberation Sans, sans-serif" font-weight="bold" font-size="11.5" fill="#fff" stroke="#fff" stroke-width="0.25">69%</text>
<text x="706.3" y="459.1" text-anchor="middle" font-family="Liberation Sans, sans-serif" font-weight="bold" font-size="10.3" fill="#fff" stroke="#fff" stroke-width="0.2">53%</text>
<circle cx="772.9" cy="320.8" r="14.5" fill="#9ccd65"/>
<circle cx="772.9" cy="451.1" r="12.0" fill="#4a79c9"/>
<text x="772.9" y="324.9" text-anchor="middle" font-family="Liberation Sans, sans-serif" font-weight="bold" font-size="11.5" fill="#fff" stroke="#fff" stroke-width="0.25">74%</text>
<text x="772.9" y="454.9" text-anchor="middle" font-family="Liberation Sans, sans-serif" font-weight="bold" font-size="10.3" fill="#fff" stroke="#fff" stroke-width="0.2">53%</text>
<circle cx="839.8" cy="359.4" r="14.5" fill="#9ccd65"/>
<circle cx="839.8" cy="471.2" r="12.0" fill="#4a79c9"/>
<text x="839.8" y="363.5" text-anchor="middle" font-family="Liberation Sans, sans-serif" font-weight="bold" font-size="11.5" fill="#fff" stroke="#fff" stroke-width="0.25">68%</text>
<text x="839.8" y="475.0" text-anchor="middle" font-family="Liberation Sans, sans-serif" font-weight="bold" font-size="10.3" fill="#fff" stroke="#fff" stroke-width="0.2">50%</text>
<circle cx="906.4" cy="359.4" r="14.5" fill="#9ccd65"/>
<circle cx="906.4" cy="495.4" r="12.0" fill="#4a79c9"/>
<text x="906.4" y="363.5" text-anchor="middle" font-family="Liberation Sans, sans-serif" font-weight="bold" font-size="11.5" fill="#fff" stroke="#fff" stroke-width="0.25">68%</text>
<text x="906.4" y="499.2" text-anchor="middle" font-family="Liberation Sans, sans-serif" font-weight="bold" font-size="10.3" fill="#fff" stroke="#fff" stroke-width="0.2">46%</text>
<rect x="818" y="298.4" width="17.6" height="1" fill="#ececec"/><rect x="881.4" y="298.4" width="17.6" height="1" fill="#ececec"/>
<circle cx="826.8" cy="298.9" r="4.7" fill="#4a79c9"/>
<circle cx="889.7" cy="298.9" r="4.7" fill="#9ccd65"/>
</svg>
<div class="t" style="left:292.40px;top:167.46px;font-size:14.90px;letter-spacing:0.107px;color:#595959;">Mentee has people in their network who</div>
<div class="t" style="left:293.30px;top:186.56px;font-size:14.90px;letter-spacing:-0.061px;color:#595959;">they can go to for help in accessing their</div>
<div class="t" style="left:308.60px;top:205.86px;font-size:14.90px;letter-spacing:-0.046px;color:#595959;">goals or connecting them to others.</div>
<div class="t" style="left:639.60px;top:189.66px;font-size:14.90px;letter-spacing:-0.049px;color:#808080;">Mentee reports making progress</div>
<div class="t" style="left:615.00px;top:209.26px;font-size:14.90px;letter-spacing:-0.012px;color:#808080;">towards their education or career goals.</div>
<div class="t" style="left:837.40px;top:291.88px;font-size:14.00px;letter-spacing:-0.366px;color:#444;">Pre</div>
<div class="t" style="left:900.90px;top:291.88px;font-size:14.00px;letter-spacing:-0.354px;color:#444;">Post</div>
<div class="t" style="left:281.60px;top:264.82px;font-size:12.20px;letter-spacing:0.052px;color:#1a1a1a;">There was a significant change in all measures with the greatest improvement in social capital and program outcomes</div>
<div class="t" style="left:282.00px;top:280.92px;font-size:12.20px;letter-spacing:0.066px;color:#1a1a1a;">where confidence was lowest in the pre-program survey.</div>
<div class="pct" style="left:276.5px;top:526.5px;width:60px;font-size:6.7px;line-height:8px;">+7.8%</div>
<div class="pct" style="left:343.0px;top:526.5px;width:60px;font-size:6.7px;line-height:8px;">+11.1%</div>
<div class="pct" style="left:409.8px;top:527.5px;width:60px;font-size:6.7px;line-height:8px;">+16.4%</div>
<div class="pct" style="left:476.2px;top:527.5px;width:60px;font-size:6.7px;line-height:8px;">+13.3%</div>
<div class="pct" style="left:542.6px;top:527.5px;width:60px;font-size:6.7px;line-height:8px;">+22.3%</div>
<div class="pct" style="left:609.7px;top:526.5px;width:60px;font-size:6.7px;line-height:8px;">+18.5%</div>
<div class="pct" style="left:676.3px;top:526.8px;width:60px;font-size:6.7px;line-height:8px;">+15.9%</div>
<div class="pct" style="left:742.9px;top:526.5px;width:60px;font-size:6.7px;line-height:8px;">+20.9%</div>
<div class="pct" style="left:809.8px;top:526.5px;width:60px;font-size:6.7px;line-height:8px;">+18.0%</div>
<div class="pct" style="left:876.4px;top:527.2px;width:60px;font-size:6.7px;line-height:8px;">+21.8%</div>
<div class="card" style="left:274.7px;top:539.2px;width:63.4px;height:119px;"></div>
<div class="ct" style="left:275.0px;width:63.2px;top:543.72px;font-size:7.30px;line-height:9.17px;">Personal</div>
<div class="ct" style="left:275.0px;width:63.2px;top:552.89px;font-size:7.30px;line-height:9.17px;">Identity</div>
<div class="cb" style="left:279.6px;top:566.50px;font-size:7.10px;line-height:8.40px;">Mentee has a</div>
<div class="cb" style="left:279.6px;top:574.90px;font-size:7.10px;line-height:8.40px;">clear sense of</div>
<div class="cb" style="left:279.6px;top:583.30px;font-size:7.10px;line-height:8.40px;">their personal</div>
<div class="cb" style="left:279.6px;top:591.70px;font-size:7.10px;line-height:8.40px;">identity.</div>
<div class="card" style="left:341.4px;top:539.2px;width:63.4px;height:119px;"></div>
<div class="ct" style="left:341.7px;width:63.2px;top:543.72px;font-size:7.30px;line-height:9.17px;">Sense of</div>
<div class="ct" style="left:341.7px;width:63.2px;top:552.89px;font-size:7.30px;line-height:9.17px;">Purpose</div>
<div class="cb" style="left:346.3px;top:566.50px;font-size:7.10px;line-height:8.40px;">Mentee has a</div>
<div class="cb" style="left:346.3px;top:574.90px;font-size:7.10px;line-height:8.40px;">clear sense of</div>
<div class="cb" style="left:346.3px;top:583.30px;font-size:7.10px;line-height:8.40px;">their life’s</div>
<div class="cb" style="left:346.3px;top:591.70px;font-size:7.10px;line-height:8.40px;">purpose.</div>
<div class="card" style="left:407.6px;top:539.2px;width:63.4px;height:119px;"></div>
<div class="ct" style="left:407.9px;width:63.2px;top:543.72px;font-size:7.30px;line-height:9.17px;">Relationship-</div>
<div class="ct" style="left:407.9px;width:63.2px;top:552.89px;font-size:7.30px;line-height:9.17px;">Building Skills</div>
<div class="cb" style="left:412.5px;top:566.50px;font-size:7.10px;line-height:8.40px;">Mentee <span class="sq">is able</span></div>
<div class="cb" style="left:412.5px;top:574.90px;font-size:7.10px;line-height:8.40px;"><span class="sq">to</span> build positive</div>
<div class="cb" style="left:412.5px;top:583.30px;font-size:7.10px;line-height:8.40px;">relationships</div>
<div class="cb" style="left:412.5px;top:591.70px;font-size:7.10px;line-height:8.40px;">with others.</div>
<div class="card" style="left:473.9px;top:539.2px;width:63.4px;height:119px;"></div>
<div class="ct" style="left:474.2px;width:63.2px;top:543.72px;font-size:7.30px;line-height:9.17px;">Self Efficacy in</div>
<div class="ct" style="left:474.2px;width:63.2px;top:552.89px;font-size:7.30px;line-height:9.17px;">Reaching Life</div>
<div class="ct" style="left:474.2px;width:63.2px;top:562.06px;font-size:7.30px;line-height:9.17px;">Goals</div>
<div class="cb" style="left:478.8px;top:575.67px;font-size:7.10px;line-height:8.40px;">Mentee feels</div>
<div class="cb" style="left:478.8px;top:584.07px;font-size:7.10px;line-height:8.40px;">they can</div>
<div class="cb" style="left:478.8px;top:592.47px;font-size:7.10px;line-height:8.40px;">successfully</div>
<div class="cb" style="left:478.8px;top:600.87px;font-size:7.10px;line-height:8.40px;">reach their life</div>
<div class="cb" style="left:478.8px;top:609.27px;font-size:7.10px;line-height:8.40px;">goals.</div>
<div class="card" style="left:540.9px;top:539.2px;width:63.4px;height:119px;"></div>
<div class="ct" style="left:541.2px;width:63.2px;top:543.72px;font-size:7.30px;line-height:9.17px;">Networking</div>
<div class="ct" style="left:541.2px;width:63.2px;top:552.89px;font-size:7.30px;line-height:9.17px;">Skills</div>
<div class="cb" style="left:545.8px;top:566.50px;font-size:7.10px;line-height:8.40px;">Mentee</div>
<div class="cb" style="left:545.8px;top:574.90px;font-size:7.10px;line-height:8.40px;">purposefully</div>
<div class="cb" style="left:545.8px;top:583.30px;font-size:7.10px;line-height:8.40px;">uses</div>
<div class="cb" style="left:545.8px;top:591.70px;font-size:7.10px;line-height:8.40px;">relationships</div>
<div class="cb" style="left:545.8px;top:600.10px;font-size:7.10px;line-height:8.40px;">within their</div>
<div class="cb" style="left:545.8px;top:608.50px;font-size:7.10px;line-height:8.40px;">social network</div>
<div class="cb" style="left:545.8px;top:616.90px;font-size:7.10px;line-height:8.40px;">to reach their</div>
<div class="cb" style="left:545.8px;top:625.30px;font-size:7.10px;line-height:8.40px;">goals.</div>
<div class="card" style="left:608.0px;top:539.2px;width:63.4px;height:119px;"></div>
<div class="ct" style="left:608.3px;width:63.2px;top:543.72px;font-size:7.30px;line-height:9.17px;">Self-Initiated</div>
<div class="ct" style="left:608.3px;width:63.2px;top:552.89px;font-size:7.30px;line-height:9.17px;">Social Capital</div>
<div class="cb" style="left:612.9px;top:566.50px;font-size:7.10px;line-height:8.40px;">Mentee actively</div>
<div class="cb" style="left:612.9px;top:574.90px;font-size:7.10px;line-height:8.40px;">builds</div>
<div class="cb" style="left:612.9px;top:583.30px;font-size:7.10px;line-height:8.40px;">relationships</div>
<div class="cb" style="left:612.9px;top:591.70px;font-size:7.10px;line-height:8.40px;">and uses the</div>
<div class="cb" style="left:612.9px;top:600.10px;font-size:7.10px;line-height:8.40px;">relationships</div>
<div class="cb" style="left:612.9px;top:608.50px;font-size:7.10px;line-height:8.40px;">and the</div>
<div class="cb" style="left:612.9px;top:616.90px;font-size:7.10px;line-height:8.40px;">resources they</div>
<div class="cb" style="left:612.9px;top:625.30px;font-size:7.10px;line-height:8.40px;"><span class="sq">have to</span> reach</div>
<div class="cb" style="left:612.9px;top:633.70px;font-size:7.10px;line-height:8.40px;">their goals.</div>
<div class="card" style="left:674.1px;top:539.2px;width:63.4px;height:119px;"></div>
<div class="ct" style="left:674.4px;width:63.2px;top:543.72px;font-size:7.30px;line-height:9.17px;">Network</div>
<div class="ct" style="left:674.4px;width:63.2px;top:552.89px;font-size:7.30px;line-height:9.17px;">Diversity</div>
<div class="cb" style="left:679.0px;top:566.85px;font-size:6.55px;line-height:7.79px;">Mentee has</div>
<div class="cb" style="left:679.0px;top:574.64px;font-size:6.55px;line-height:7.79px;">people in their</div>
<div class="cb" style="left:679.0px;top:582.43px;font-size:6.55px;line-height:7.79px;">network who are</div>
<div class="cb" style="left:679.0px;top:590.22px;font-size:6.55px;line-height:7.79px;">from different</div>
<div class="cb" style="left:679.0px;top:598.01px;font-size:6.55px;line-height:7.79px;">cultures, racial</div>
<div class="cb" style="left:679.0px;top:605.80px;font-size:6.55px;line-height:7.79px;">and ethnic</div>
<div class="cb" style="left:679.0px;top:613.59px;font-size:6.55px;line-height:7.79px;">backgrounds,</div>
<div class="cb" style="left:679.0px;top:621.38px;font-size:6.55px;line-height:7.79px;">economic</div>
<div class="cb" style="left:679.0px;top:629.17px;font-size:6.55px;line-height:7.79px;">backgrounds, and</div>
<div class="cb" style="left:679.0px;top:636.96px;font-size:6.55px;line-height:7.79px;">have different</div>
<div class="cb" style="left:679.0px;top:644.75px;font-size:6.55px;line-height:7.79px;">skills.</div>
<div class="card" style="left:741.0px;top:539.2px;width:63.4px;height:119px;"></div>
<div class="ct" style="left:741.3px;width:63.2px;top:543.72px;font-size:7.30px;line-height:9.17px;">Network</div>
<div class="ct" style="left:741.3px;width:63.2px;top:552.89px;font-size:7.30px;line-height:9.17px;">Strength</div>
<div class="cb" style="left:745.9px;top:566.81px;font-size:6.03px;line-height:6.95px;">Mentee has people</div>
<div class="cb" style="left:745.9px;top:573.76px;font-size:6.03px;line-height:6.95px;">in their network</div>
<div class="cb" style="left:745.9px;top:580.71px;font-size:6.03px;line-height:6.95px;">who they can go to</div>
<div class="cb" style="left:745.9px;top:587.66px;font-size:6.03px;line-height:6.95px;">for help, trust, and</div>
<div class="cb" style="left:745.9px;top:594.61px;font-size:6.03px;line-height:6.95px;">feel close to, and</div>
<div class="cb" style="left:745.9px;top:601.56px;font-size:6.03px;line-height:6.95px;">people they feel</div>
<div class="cb" style="left:745.9px;top:608.51px;font-size:6.03px;line-height:6.95px;">less close to but</div>
<div class="cb" style="left:745.9px;top:615.46px;font-size:6.03px;line-height:6.95px;">who may be</div>
<div class="cb" style="left:745.9px;top:622.41px;font-size:6.03px;line-height:6.95px;">influential in helping</div>
<div class="cb" style="left:745.9px;top:629.36px;font-size:6.03px;line-height:6.95px;">them access their</div>
<div class="cb" style="left:745.9px;top:636.31px;font-size:6.03px;line-height:6.95px;">goals or may</div>
<div class="cb" style="left:745.9px;top:643.26px;font-size:6.03px;line-height:6.95px;">connect them to</div>
<div class="cb" style="left:745.9px;top:650.21px;font-size:6.03px;line-height:6.95px;">others.</div>
<div class="card" style="left:807.9px;top:539.2px;width:63.4px;height:119px;"></div>
<div class="ct" style="left:808.2px;width:63.2px;top:543.72px;font-size:7.30px;line-height:9.17px;">Occupational</div>
<div class="ct" style="left:808.2px;width:63.2px;top:552.89px;font-size:7.30px;line-height:9.17px;">Identity</div>
<div class="cb" style="left:812.8px;top:566.50px;font-size:7.10px;line-height:8.40px;">Mentee actively</div>
<div class="cb" style="left:812.8px;top:574.90px;font-size:7.10px;line-height:8.40px;">builds</div>
<div class="cb" style="left:812.8px;top:583.30px;font-size:7.10px;line-height:8.40px;">relationships</div>
<div class="cb" style="left:812.8px;top:591.70px;font-size:7.10px;line-height:8.40px;">and uses the</div>
<div class="cb" style="left:812.8px;top:600.10px;font-size:7.10px;line-height:8.40px;">relationships</div>
<div class="cb" style="left:812.8px;top:608.50px;font-size:7.10px;line-height:8.40px;">and the</div>
<div class="cb" style="left:812.8px;top:616.90px;font-size:7.10px;line-height:8.40px;">resources they</div>
<div class="cb" style="left:812.8px;top:625.30px;font-size:7.10px;line-height:8.40px;"><span class="sq">have to</span> reach</div>
<div class="cb" style="left:812.8px;top:633.70px;font-size:7.10px;line-height:8.40px;">their goals.</div>
<div class="card" style="left:873.8px;top:539.2px;width:63.4px;height:119px;"></div>
<div class="ct" style="left:874.1px;width:63.2px;top:543.72px;font-size:7.30px;line-height:9.17px;">Progress</div>
<div class="ct" style="left:874.1px;width:63.2px;top:552.89px;font-size:7.30px;line-height:9.17px;">Towards</div>
<div class="ct" style="left:874.1px;width:63.2px;top:562.06px;font-size:7.30px;line-height:9.17px;">Education or</div>
<div class="ct" style="left:874.1px;width:63.2px;top:571.23px;font-size:7.30px;line-height:9.17px;">Career Goals</div>
<div class="cb" style="left:878.7px;top:584.84px;font-size:7.10px;line-height:8.40px;">Mentee reports</div>
<div class="cb" style="left:878.7px;top:593.24px;font-size:7.10px;line-height:8.40px;">making progress</div>
<div class="cb" style="left:878.7px;top:601.64px;font-size:7.10px;line-height:8.40px;">towards their</div>
<div class="cb" style="left:878.7px;top:610.04px;font-size:7.10px;line-height:8.40px;">education or</div>
<div class="cb" style="left:878.7px;top:618.44px;font-size:7.10px;line-height:8.40px;">career goals.</div>
<div class="bar" style="left:275.8px;top:661px;width:395px;height:16px;font-size:11.62px;line-height:16px;">Mindset and Skills for Social Capital Development</div>
<div class="bar" style="left:674.5px;top:661px;width:130.2px;height:16px;font-size:11.38px;line-height:16px;">Social Capital</div>
<div class="bar" style="left:808.4px;top:661px;width:128.6px;height:16px;font-size:11.41px;line-height:16px;">Program Outcomes</div>
<div class="fn" style="left:277px;top:683.0px;font-size:8.5px;line-height:10px;">&#8226;</div>
<div class="fn" style="left:289.7px;top:683.0px;font-size:8.55px;line-height:10px;letter-spacing:0.076px;">Results for 427 iCouldBe mentees for the 2023-2024 school year who completed pre- and post-program surveys developed based on the Search Institute SCALE survey.</div>
<div class="fn" style="left:277px;top:694.0px;font-size:8.5px;line-height:10px;">&#8226;</div>
<div class="fn" style="left:289.7px;top:694.0px;font-size:8.55px;line-height:10px;letter-spacing:0.118px;">Numbers show the percent of mentees who agree and strongly agree .</div>
<div class="fn" style="left:277px;top:705.0px;font-size:8.5px;line-height:10px;">&#8226;</div>
<div class="fn" style="left:289.7px;top:705.0px;font-size:8.55px;line-height:10px;letter-spacing:0.078px;">A t-Test and Wilcoxon analysis was run on paired samples for means testing individual responses to determine significance of changes in each measure.</div>
</div></body></html>
